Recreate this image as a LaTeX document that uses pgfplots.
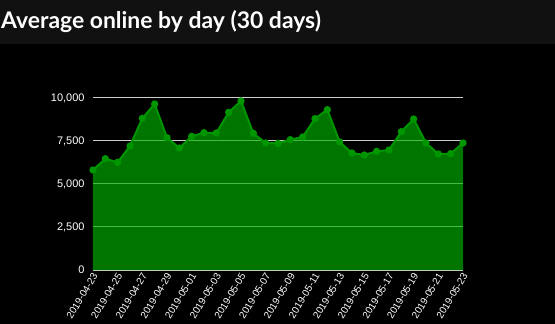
\documentclass[border=0pt]{standalone}
\usepackage{pgfplots}
\pgfplotsset{compat=1.18}
\usepackage{fontspec}
\setmainfont{Liberation Sans}
\newfontfamily\titlefont{Lato}
\definecolor{areafill}{RGB}{0,181,0}
\definecolor{linegreen}{RGB}{0,150,0}
\definecolor{headergray}{RGB}{17,17,17}
\definecolor{gridgray}{RGB}{205,205,205}
\pgfplotstableread{
x y
0 5814
1 6470
2 6260
3 7209
4 8818
5 9651
6 7694
7 7093
8 7771
9 7984
10 7965
11 9166
12 9826
13 7946
14 7384
15 7364
16 7578
17 7733
18 8798
19 9322
20 7442
21 6802
22 6686
23 6899
24 6977
25 8043
26 8779
27 7384
28 6744
29 6764
30 7384
}\datatable
\begin{document}
\begin{tikzpicture}
\fill[black] (0bp,0bp) rectangle (555bp,324bp);
\fill[headergray] (0bp,280bp) rectangle (555bp,324bp);
\node[anchor=base west, text=white, font=\titlefont\fontsize{23}{23}\selectfont\bfseries, inner sep=0] at (1bp,295bp) {Average online by day (30 days)};
\begin{axis}[
  at={(93bp,54bp)}, anchor=origin, scale only axis,
  width=370bp, height=172bp,
  xmin=0, xmax=30, ymin=0, ymax=10000,
  clip=false,
  axis line style={draw=none},
  major tick length=0,
  ymajorgrids,
  grid style={color=gridgray, line width=1bp},
  ytick={0,2500,5000,7500,10000},
  xtick={0,2,...,30},
  xticklabels={2019-04-23,2019-04-25,2019-04-27,2019-04-29,2019-05-01,2019-05-03,2019-05-05,2019-05-07,2019-05-09,2019-05-11,2019-05-13,2019-05-15,2019-05-17,2019-05-19,2019-05-21,2019-05-23},
  scaled y ticks=false,
  /pgf/number format/assume math mode=true,
  /pgf/number format/1000 sep={,},
  yticklabel style={font=\fontsize{11}{11}\selectfont, text=white, xshift=-5bp},
  xticklabel style={font=\fontsize{10}{10}\selectfont, text=white, rotate=59, anchor=east, yshift=-4bp, xshift=1bp},
]
\addplot[fill=areafill, fill opacity=0.65, draw=none] table[x=x,y=y] {\datatable} \closedcycle;
\addplot[linegreen, line width=2bp, mark=*, mark size=2.6bp, mark options={fill=linegreen, draw=linegreen}] table[x=x,y=y] {\datatable};
\end{axis}
\pgfresetboundingbox
\path[use as bounding box] (0bp,0bp) rectangle (555bp,324bp);
\end{tikzpicture}
\end{document}
